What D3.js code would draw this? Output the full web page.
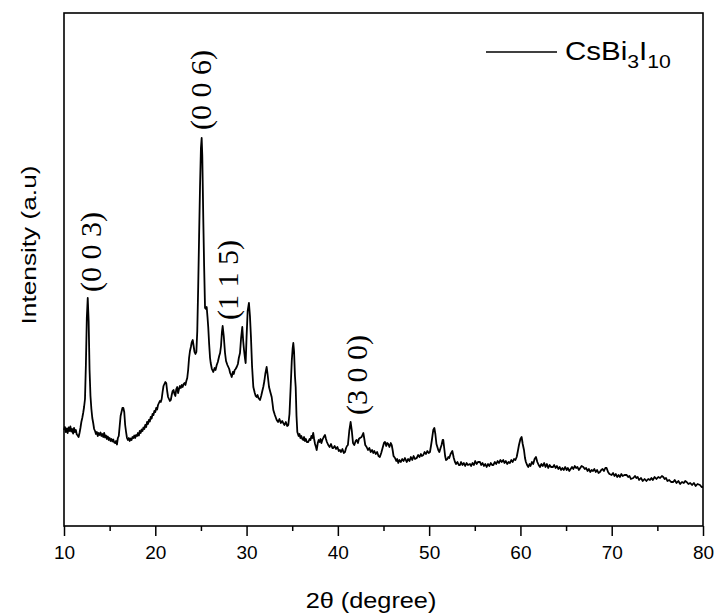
<!DOCTYPE html>
<html>
<head>
<meta charset="utf-8">
<script src="https://cdn.jsdelivr.net/npm/d3@7"></script>
<style>
  body { margin: 0; background: #fff; }
  svg { display: block; }
  .tick text { font-family: "Liberation Sans", Arial, sans-serif; font-size: 19px; fill: #000; }
  .tick line { stroke: #000; stroke-width: 1.5; }
</style>
</head>
<body>
<svg id="xrd" width="718" height="614"></svg>
<script>
// XRD pattern: [2theta (deg), intensity (a.u.)]
let pattern = [
  [10.0,960],[10.1,990],[10.2,940],[10.3,975],[10.4,930],[10.5,985],[10.6,950],[10.7,995],[10.8,945],[10.9,970],
  [11.0,925],[11.1,980],[11.2,940],[11.3,960],[11.4,915],[11.5,905],[11.6,890],[11.7,930],[11.8,980],[11.9,1040],
  [12.0,1080],[12.1,1130],[12.2,1190],[12.3,1270],[12.4,1620],[12.5,2080],[12.6,2280],[12.7,2050],[12.8,1560],[12.9,1300],
  [13.0,1170],[13.1,1080],[13.2,1030],[13.3,970],[13.4,950],[13.5,920],[13.6,940],[13.7,900],[13.8,930],[13.9,910],
  [14.0,935],[14.1,900],[14.2,920],[14.3,890],[14.4,930],[14.5,885],[14.6,905],[14.7,870],[14.8,895],[14.9,860],
  [15.0,880],[15.1,850],[15.2,870],[15.3,845],[15.4,865],[15.5,835],[15.6,830],[15.7,850],[15.8,815],[15.9,880],
  [16.0,900],[16.1,1000],[16.2,1100],[16.3,1140],[16.4,1180],[16.5,1180],[16.6,1140],[16.7,1010],[16.8,940],[16.9,880],
  [17.0,860],[17.1,880],[17.2,850],[17.3,875],[17.4,860],[17.5,890],[17.6,880],[17.7,905],[17.8,880],[17.9,910],
  [18.0,900],[18.1,930],[18.2,905],[18.3,950],[18.4,930],[18.5,965],[18.6,950],[18.7,985],[18.8,970],[18.9,1010],
  [19.0,990],[19.1,1040],[19.2,1020],[19.3,1060],[19.4,1045],[19.5,1090],[19.6,1075],[19.7,1120],[19.8,1110],[19.9,1150],
  [20.0,1140],[20.1,1180],[20.2,1165],[20.3,1210],[20.4,1230],[20.5,1250],[20.6,1240],[20.7,1270],[20.8,1340],[20.9,1400],
  [21.0,1420],[21.1,1440],[21.2,1430],[21.3,1350],[21.4,1290],[21.5,1270],[21.6,1250],[21.7,1260],[21.8,1310],[21.9,1350],
  [22.0,1360],[22.1,1320],[22.2,1300],[22.3,1370],[22.4,1390],[22.5,1330],[22.6,1370],[22.7,1400],[22.8,1380],[22.9,1410],
  [23.0,1390],[23.1,1420],[23.2,1430],[23.3,1410],[23.4,1450],[23.5,1480],[23.6,1560],[23.7,1680],[23.8,1750],[23.9,1790],
  [24.0,1840],[24.1,1860],[24.2,1800],[24.3,1740],[24.4,1720],[24.5,1740],[24.6,1950],[24.7,2390],[24.8,2900],[24.9,3390],
  [25.0,3780],[25.08,3880],[25.15,3700],[25.26,3060],[25.35,2600],[25.45,2180],[25.55,2170],[25.63,2190],[25.72,2090],[25.8,1990],
  [25.9,1820],[26.0,1680],[26.07,1630],[26.2,1570],[26.35,1540],[26.5,1580],[26.6,1560],[26.73,1610],[26.85,1640],[27.0,1700],
  [27.1,1730],[27.2,1800],[27.3,1940],[27.38,2000],[27.5,1900],[27.64,1730],[27.75,1650],[27.9,1610],[28.0,1590],[28.1,1570],
  [28.2,1530],[28.3,1510],[28.37,1490],[28.5,1540],[28.6,1520],[28.7,1560],[28.8,1570],[28.92,1590],[29.05,1620],[29.15,1680],
  [29.28,1730],[29.4,1880],[29.53,1990],[29.63,1850],[29.72,1760],[29.82,1680],[29.9,1630],[30.0,1890],[30.12,2150],[30.26,2230],
  [30.37,2100],[30.48,1890],[30.6,1600],[30.74,1390],[30.9,1330],[31.0,1300],[31.1,1290],[31.2,1310],[31.3,1280],[31.47,1260],
  [31.6,1300],[31.7,1340],[31.83,1390],[31.95,1450],[32.05,1520],[32.2,1590],[32.3,1520],[32.46,1390],[32.6,1340],[32.75,1290],
  [32.85,1220],[32.93,1160],[33.1,1110],[33.3,1060],[33.45,1040],[33.6,1070],[33.75,1030],[33.9,1050],[34.02,1030],[34.15,1010],
  [34.3,1040],[34.45,1000],[34.57,1010],[34.7,1120],[34.83,1390],[34.95,1650],[35.05,1780],[35.12,1830],[35.2,1750],[35.3,1500],
  [35.38,1390],[35.47,1100],[35.56,940],[35.7,900],[35.8,920],[35.9,880],[36.0,900],[36.1,870],[36.2,860],[36.3,890],
  [36.4,850],[36.5,870],[36.6,840],[36.76,840],[36.9,870],[37.0,860],[37.1,900],[37.2,880],[37.3,930],[37.4,870],
  [37.5,820],[37.6,790],[37.68,760],[37.8,830],[37.9,860],[38.0,840],[38.1,870],[38.2,830],[38.3,860],[38.45,890],
  [38.59,910],[38.7,870],[38.8,840],[38.95,810],[39.1,790],[39.25,820],[39.4,780],[39.5,780],[39.65,800],[39.8,770],
  [39.95,790],[40.1,750],[40.23,760],[40.35,740],[40.5,770],[40.65,730],[40.78,740],[40.9,780],[41.0,800],[41.1,810],
  [41.25,950],[41.4,1040],[41.52,960],[41.66,830],[41.8,810],[41.95,850],[42.06,860],[42.2,830],[42.3,870],[42.42,880],
  [42.6,890],[42.79,930],[42.9,870],[43.0,810],[43.15,790],[43.3,760],[43.45,780],[43.6,740],[43.75,760],[43.88,730],
  [44.0,750],[44.15,720],[44.3,740],[44.45,700],[44.6,690],[44.75,730],[44.9,780],[45.05,830],[45.16,840],[45.3,800],
  [45.4,830],[45.52,820],[45.65,790],[45.8,830],[45.9,810],[46.0,760],[46.1,700],[46.26,680],[46.4,650],[46.5,670],
  [46.62,630],[46.75,660],[46.9,640],[47.05,670],[47.2,650],[47.35,680],[47.54,640],[47.7,670],[47.85,650],[48.0,690],
  [48.15,660],[48.3,700],[48.45,670],[48.64,680],[48.8,710],[48.95,690],[49.1,720],[49.2,700],[49.36,710],[49.5,740],
  [49.65,720],[49.8,750],[49.95,730],[50.09,740],[50.2,800],[50.3,860],[50.45,960],[50.57,980],[50.68,920],[50.8,820],
  [50.9,790],[51.0,760],[51.12,740],[51.25,780],[51.36,810],[51.48,860],[51.55,860],[51.65,780],[51.75,700],[51.85,660],
  [52.0,670],[52.1,690],[52.2,680],[52.35,720],[52.54,750],[52.7,680],[52.83,640],[52.95,620],[53.1,640],[53.25,610],
  [53.38,610],[53.5,640],[53.65,610],[53.8,630],[53.95,600],[54.1,630],[54.25,610],[54.47,620],[54.6,600],[54.75,630],
  [54.9,610],[55.05,650],[55.2,620],[55.35,640],[55.57,640],[55.7,610],[55.85,630],[56.0,600],[56.15,620],[56.3,590],
  [56.45,620],[56.6,600],[56.75,630],[56.9,610],[57.03,610],[57.2,640],[57.35,620],[57.5,650],[57.65,630],[57.8,660],
  [57.95,640],[58.12,660],[58.25,630],[58.4,650],[58.55,620],[58.7,640],[58.85,630],[59.0,660],[59.15,640],[59.3,670],
  [59.45,660],[59.59,690],[59.72,750],[59.84,810],[60.0,870],[60.13,890],[60.25,820],[60.39,760],[60.5,680],[60.6,640],
  [60.73,610],[60.86,590],[61.0,620],[61.1,600],[61.26,640],[61.4,620],[61.55,670],[61.7,690],[61.85,640],[62.0,610],
  [62.14,590],[62.3,620],[62.45,600],[62.6,630],[62.75,590],[62.9,620],[63.05,580],[63.2,610],[63.35,590],[63.57,590],
  [63.7,610],[63.85,580],[64.0,600],[64.15,570],[64.3,590],[64.45,560],[64.6,580],[64.75,560],[64.9,590],[65.07,560],
  [65.2,580],[65.35,550],[65.5,570],[65.65,590],[65.8,570],[65.95,600],[66.1,580],[66.25,590],[66.4,560],[66.55,580],
  [66.7,600],[66.89,590],[67.05,570],[67.2,580],[67.35,550],[67.5,570],[67.65,540],[67.8,560],[67.95,550],[68.1,570],
  [68.25,540],[68.4,560],[68.55,530],[68.71,540],[68.85,560],[69.0,570],[69.15,550],[69.3,580],[69.44,580],[69.6,540],
  [69.75,520],[69.99,510],[70.15,530],[70.3,500],[70.45,520],[70.6,490],[70.75,510],[70.9,490],[71.05,520],[71.2,500],
  [71.4,510],[71.64,510],[71.8,490],[71.95,500],[72.1,470],[72.36,480],[72.55,500],[72.7,480],[72.85,490],[73.0,460],
  [73.2,480],[73.4,450],[73.6,470],[73.8,450],[74.0,470],[74.19,460],[74.35,480],[74.5,460],[74.7,490],[74.9,470],
  [75.1,490],[75.3,480],[75.5,500],[75.65,490],[75.8,470],[75.95,480],[76.1,450],[76.3,460],[76.5,440],[76.74,440],
  [76.9,460],[77.1,430],[77.3,450],[77.5,420],[77.7,440],[77.9,430],[78.05,450],[78.21,440],[78.4,420],[78.6,430],
  [78.8,410],[79.0,430],[79.2,400],[79.4,420],[79.67,410],[79.85,390],[80.0,390]
];

// Miller index labels: text, 2theta of the label centre, intensity where the label starts
let peakLabels = [
  { text: "(0 0 3)", x: 12.85, y: 2340 },
  { text: "(0 0 6)", x: 25.0,  y: 3960 },
  { text: "(1 1 5)", x: 27.96, y: 2060 },
  { text: "(3 0 0)", x: 41.99, y: 1110 }
];

let majorTicks = [10, 20, 30, 40, 50, 60, 70, 80];
let minorTicks = [15, 25, 35, 45, 55, 65, 75];
let xDomain = [10, 80];
let yDomain = [0, 5130];

let margin = { top: 13, right: 15, bottom: 88, left: 64 };
let width = 718 - margin.left - margin.right,
    height = 614 - margin.top - margin.bottom;

let svg = d3.select("#xrd");
let g = svg.append("g")
    .attr("transform", "translate(" + margin.left + "," + margin.top + ")");

let x = d3.scaleLinear().domain(xDomain).range([0, width]);
let y = d3.scaleLinear().domain(yDomain).range([height, 0]);

// minor ticks first, no labels
g.append("g")
    .attr("transform", "translate(0," + height + ")")
    .call(d3.axisBottom(x).tickValues(minorTicks).tickSize(5).tickFormat(""))
    .call(a => a.select(".domain").remove());

// major ticks with labels
g.append("g")
    .attr("transform", "translate(0," + height + ")")
    .call(d3.axisBottom(x).tickValues(majorTicks).tickSize(10).tickPadding(10).tickFormat(d3.format("d")))
    .call(a => a.select(".domain").remove());

// the pattern
let line = d3.line()
    .x(d => x(d[0]))
    .y(d => y(d[1]));

g.append("path")
    .datum(pattern)
    .attr("fill", "none")
    .attr("stroke", "#000")
    .attr("stroke-width", 1.8)
    .attr("stroke-linejoin", "round")
    .attr("d", line);

// frame around the plot
g.append("rect")
    .attr("width", width)
    .attr("height", height)
    .attr("fill", "none")
    .attr("stroke", "#000")
    .attr("stroke-width", 1.6);

// peak labels, rotated, Times-like serif
g.selectAll(".peak")
    .data(peakLabels)
    .enter().append("text")
    .attr("class", "peak")
    .attr("font-family", "Liberation Serif")
    .attr("font-size", 30)
    .attr("fill", "#000")
    .attr("transform", d => "translate(" + x(d.x) + "," + y(d.y) + ") rotate(-90)")
    .attr("text-anchor", "start")
    .attr("dominant-baseline", "central")
    .text(d => d.text);

// axis titles
svg.append("text")
    .attr("transform", "translate(371,608) scale(1.15,1)")
    .attr("text-anchor", "middle")
    .attr("font-family", "Liberation Sans")
    .attr("font-size", 22)
    .text("2\u03b8 (degree)");

svg.append("text")
    .attr("transform", "translate(36,245) rotate(-90) scale(1.25,1)")
    .attr("text-anchor", "middle")
    .attr("font-family", "Liberation Sans")
    .attr("font-size", 21)
    .text("Intensity (a.u)");

// legend
let legend = svg.append("g");
legend.append("line")
    .attr("x1", 486).attr("x2", 557)
    .attr("y1", 52).attr("y2", 52)
    .attr("stroke", "#000")
    .attr("stroke-width", 1.6);

let lt = legend.append("text")
    .attr("transform", "translate(565,60) scale(1.18,1)")
    .attr("font-family", "Liberation Sans")
    .attr("font-size", 25);
lt.append("tspan").text("CsBi");
lt.append("tspan").attr("dy", 8).attr("font-size", 18).text("3");
lt.append("tspan").attr("dy", -8).text("I");
lt.append("tspan").attr("dy", 8).attr("font-size", 18).text("10");
</script>
</body>
</html>
